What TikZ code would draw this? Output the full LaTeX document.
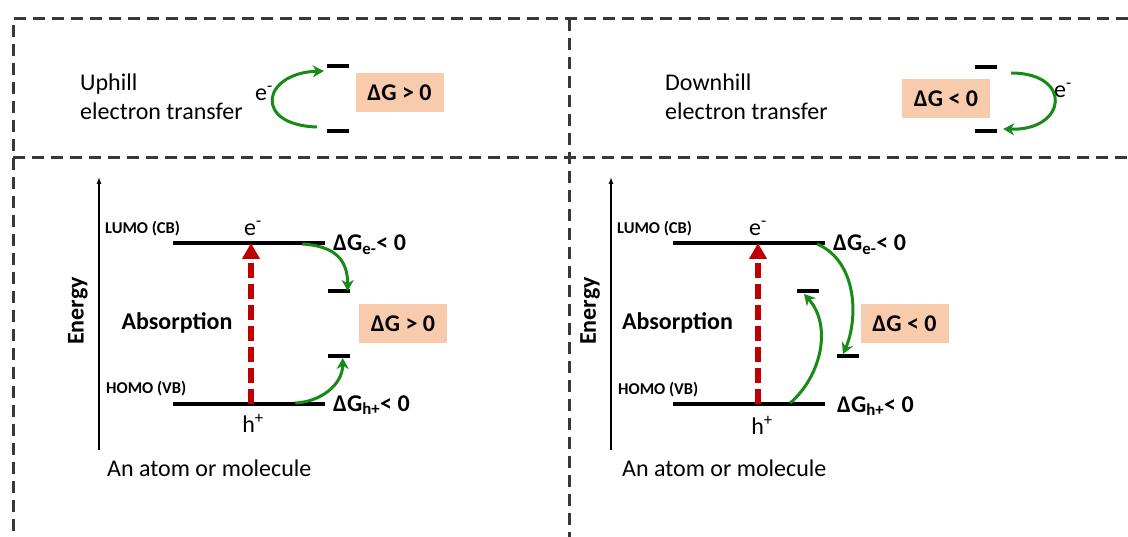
\documentclass[tikz,border=0pt]{standalone}
\usepackage{fontspec}
\setmainfont{Carlito}
\usetikzlibrary{arrows.meta,positioning,calc}
\definecolor{framegray}{HTML}{383838}
\definecolor{boxsalmon}{HTML}{F8CBAD}
\definecolor{etgreen}{HTML}{178A17}
\definecolor{absred}{HTML}{C00000}
\tikzset{
  divider/.style={draw=framegray, line width=3pt, dash pattern=on 12pt off 7pt},
  level/.style={fill=black, inner sep=0, minimum height=3.5pt, minimum width=152pt},
  bar/.style={fill=black, inner sep=0, minimum height=3.5pt, minimum width=22pt},
  dgbox/.style={
    fill=boxsalmon,
    inner sep=0,
    minimum width=88pt,
    minimum height=39pt,
    font=\fontsize{24}{28.8}\selectfont\bfseries
  },
  transfer/.style={draw=etgreen, line width=3pt, -{Stealth[length=11pt,width=12pt,inset=3.5pt]}},
  excite/.style={draw=absred, line width=6pt, dash pattern=on 15pt off 6pt, -{Triangle[length=16pt,width=17pt]}},
  axis/.style={line width=1.3pt, -{Latex[length=7pt,width=5pt]}},
  txt/.style={font=\fontsize{24}{28.8}\selectfont, inner sep=0},
  bigb/.style={font=\fontsize{24}{28.8}\selectfont\bfseries, inner sep=0},
  orbit/.style={font=\fontsize{16.5}{19}\selectfont\bfseries, inner sep=0}
}
\begin{document}
\begin{tikzpicture}[x=1pt,y=-1pt]
  \useasboundingbox (0,0) rectangle (1128,537);
  % frame
  \draw[divider] (1128,19) -- (13,19) -- (13,537);
  \draw[divider] (13,158) -- (1128,158);
  \draw[divider] (569,19) -- (569,537);

  % uphill
  \node[txt, anchor=west, align=left] (uptxt) at (80,97) {Uphill\\electron transfer};
  \node[txt] (upe) at (264,93) {e\textsuperscript{-}};
  \node[bar] (uphi) at (338,66) {};
  \node[bar] (uplo) at (338,131) {};
  \node[dgbox] (updg) at (399.5,92.5) {ΔG > 0};
  \draw[transfer] ([shift={(-10,-4)}]uplo.west) .. controls +(-64,-2) and +(-62,2) .. ([shift={(-3,5)}]uphi.west);

  % downhill
  \node[txt, anchor=west, align=left] (dntxt) at (665,97) {Downhill\\electron transfer};
  \node[bar] (dnhi) at (986,67) {};
  \node[bar] (dnlo) at (986,131) {};
  \node[dgbox] (dndg) at (946,98.5) {ΔG < 0};
  \node[txt] (dne) at (1063,90) {e\textsuperscript{-}};
  \draw[transfer] ([shift={(14,6)}]dnhi.east) .. controls +(62,0) and +(64,2) .. ([shift={(6,-2)}]dnlo.east);

  % left molecule
  \coordinate (axbotL) at (99,450);
  \coordinate (axtopL) at (99,177);
  \draw[axis] (axbotL) -- (axtopL);
  \node[bigb, rotate=90] (energyL) at (78,311) {Energy};
  \node[level] (lumoL) at (249,243) {};
  \node[level] (homoL) at (249,404) {};
  \node[orbit, anchor=west] (lumotL) at (105,229) {LUMO (CB)};
  \node[orbit, anchor=west] (homotL) at (106,389) {HOMO (VB)};
  \node[txt] (eL) at (253,228) {e\textsuperscript{-}};
  \node[txt] (hL) at (253,423) {h\textsuperscript{+}};
  \node[bigb] (absL) at (177,323) {Absorption};
  \node[bigb, anchor=west] (dgeL) at (333,245) {ΔG\textsubscript{e-}< 0};
  \node[bigb, anchor=west] (dghL) at (333,405) {ΔG\textsubscript{h+}< 0};
  \node[bar] (eaccL) at (338.5,291) {};
  \node[bar] (hdonL) at (338.5,356) {};
  \node[dgbox] (dgL) at (403,323.5) {ΔG > 0};
  \node[txt, anchor=west] (atomL) at (107,468) {An atom or molecule};
  \draw[excite] ([xshift=2pt]homoL.center) -- ([xshift=2pt]lumoL.center);
  \draw[transfer] ([shift={(-23,1)}]lumoL.east) .. controls +(32,2) and +(0,-32) .. ([shift={(-2,0)}]eaccL.east);
  \draw[transfer] ([shift={(-30,-1)}]homoL.east) .. controls +(25,-1) and +(0,27) .. ([shift={(-7,2)}]hdonL.east);

  % right molecule
  \coordinate (axbotR) at (611,450);
  \coordinate (axtopR) at (611,177);
  \draw[axis] (axbotR) -- (axtopR);
  \node[bigb, rotate=90] (energyR) at (590,311) {Energy};
  \node[level] (lumoR) at (749,243) {};
  \node[level] (homoR) at (749,404) {};
  \node[orbit, anchor=west] (lumotR) at (617,229) {LUMO (CB)};
  \node[orbit, anchor=west] (homotR) at (618,390) {HOMO (VB)};
  \node[txt] (eR) at (758,228) {e\textsuperscript{-}};
  \node[txt] (hR) at (762,425) {h\textsuperscript{+}};
  \node[bigb] (absR) at (677.5,323) {Absorption};
  \node[bigb, anchor=west] (dgeR) at (833,245) {ΔG\textsubscript{e-}< 0};
  \node[bigb, anchor=west] (dghR) at (837,406) {ΔG\textsubscript{h+}< 0};
  \node[bar] (eaccR) at (847.5,356) {};
  \node[bar] (hdonR) at (808,291) {};
  \node[dgbox] (dgR) at (904.5,323.5) {ΔG < 0};
  \node[txt, anchor=west] (atomR) at (622,468) {An atom or molecule};
  \draw[excite] ([xshift=9pt]homoR.center) -- ([xshift=9pt]lumoR.center);
  \draw[transfer] ([shift={(-8,1)}]lumoR.east) .. controls +(41,18) and +(15,-34) .. ([shift={(-4.5,-2)}]eaccR.center);
  \draw[transfer] ([shift={(-35,-1)}]homoR.east) .. controls +(32,-28) and +(28,31) .. ([shift={(-4,3)}]hdonR.center);
\end{tikzpicture}
\end{document}
